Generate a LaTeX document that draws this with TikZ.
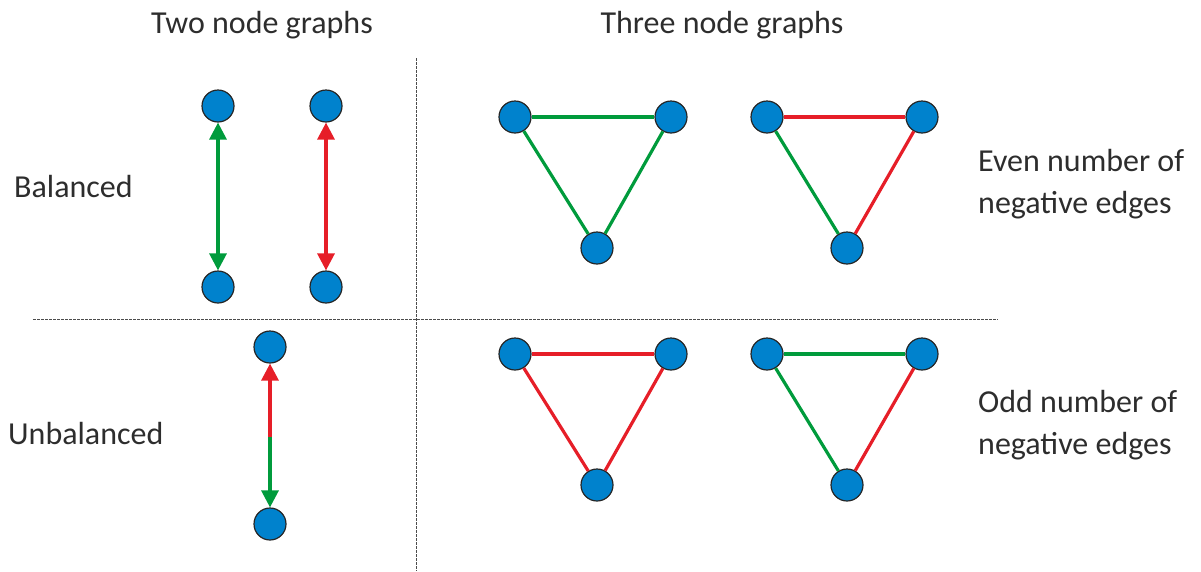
\documentclass[tikz,border=0pt]{standalone}
\usepackage{fontspec}
\setmainfont{Carlito}
\usetikzlibrary{arrows.meta}
\definecolor{nodeblue}{RGB}{0,130,205}
\definecolor{egreen}{RGB}{0,155,60}
\definecolor{ered}{RGB}{230,30,40}
\definecolor{txt}{RGB}{45,45,45}
\begin{document}
\begin{tikzpicture}[x=1pt,y=-1pt,
  vtx/.style={circle,draw=black!85,line width=1.2pt,fill=nodeblue,minimum size=32pt,inner sep=0pt},
  posedge/.style={draw=egreen,line width=3.2pt},
  negedge/.style={draw=ered,line width=3.2pt},
  tipg/.style={-{Triangle[length=17pt,width=17pt]}},
  dbl/.style={{Triangle[length=17pt,width=17pt]}-{Triangle[length=17pt,width=17pt]}},
  lbl/.style={text=txt,font=\fontsize{32}{42}\selectfont,inner sep=0pt},
  sepline/.style={draw=black!70,line width=1pt,dash pattern=on 2.5pt off 1.5pt}]
\useasboundingbox (0,0) rectangle (1201,571);
% separators
\coordinate (vt) at (416,58); \coordinate (vb) at (416,571);
\coordinate (hl) at (33,319); \coordinate (hr) at (998,319);
\draw[sepline] (vt) -- (vb);
\draw[sepline] (hl) -- (hr);
% titles
\node[lbl] (t1) at (262,25) {Two node graphs};
\node[lbl] (t2) at (722,25) {Three node graphs};
\node[lbl,anchor=west] (bal) at (14,187) {Balanced};
\node[lbl,anchor=west] (unb) at (8,433) {Unbalanced};
\node[lbl,anchor=west,align=left] (even) at (978,184) {Even number of\\negative edges};
\node[lbl,anchor=west,align=left] (odd) at (978,425) {Odd number of\\negative edges};
% two node graphs
\node[vtx] (a1) at (218,106) {};
\node[vtx] (a2) at (218,287) {};
\node[vtx] (b1) at (326,106) {};
\node[vtx] (b2) at (326,287) {};
\draw[posedge,fill=egreen,dbl] (a1) -- (a2);
\draw[negedge,fill=ered,dbl] (b1) -- (b2);
\node[vtx] (c1) at (270,347) {};
\node[vtx] (c2) at (270,524) {};
\coordinate (cm) at (270,437);
\draw[negedge,fill=ered,tipg] (cm) -- (c1);
\draw[posedge,fill=egreen,tipg] (cm) -- (c2);
% three node graphs
\node[vtx] (p1) at (515,117) {};
\node[vtx] (p2) at (671,117) {};
\node[vtx] (p3) at (597,248) {};
\node[vtx] (q1) at (767,117) {};
\node[vtx] (q2) at (922,117) {};
\node[vtx] (q3) at (847,248) {};
\node[vtx] (r1) at (515,354) {};
\node[vtx] (r2) at (671,354) {};
\node[vtx] (r3) at (597,485) {};
\node[vtx] (s1) at (767,354) {};
\node[vtx] (s2) at (922,354) {};
\node[vtx] (s3) at (847,485) {};
\draw[posedge] (p1) -- (p2); \draw[posedge] (p1) -- (p3); \draw[posedge] (p2) -- (p3);
\draw[negedge] (q1) -- (q2); \draw[posedge] (q1) -- (q3); \draw[negedge] (q2) -- (q3);
\draw[negedge] (r1) -- (r2); \draw[negedge] (r1) -- (r3); \draw[negedge] (r2) -- (r3);
\draw[posedge] (s1) -- (s2); \draw[posedge] (s1) -- (s3); \draw[negedge] (s2) -- (s3);
\end{tikzpicture}
\end{document}
